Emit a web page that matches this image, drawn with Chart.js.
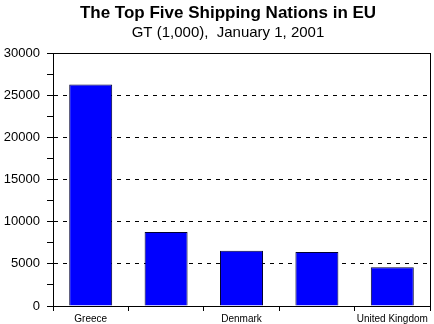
<!DOCTYPE html>
<html>
<head>
<meta charset="utf-8">
<script src="https://cdn.jsdelivr.net/npm/chart.js@4"></script>
<style>
  html, body { margin: 0; padding: 0; background: #fff; }
  #wrap { width: 434px; height: 324px; }
</style>
</head>
<body>
<div id="wrap"><canvas id="chart" width="434" height="324"></canvas></div>
<script>
// data
const nations = ['Greece', 'Italy', 'Denmark', 'Germany', 'United Kingdom'];
const tonnage = [26300, 8800, 6550, 6400, 4600];
const shownLabels = ['Greece', 'Denmark', 'United Kingdom'];
const yMax = 30000;

// frame round the plot area
const frame = {
    id: 'frame',
    afterLayout(chart) {
        // titles in the original sit a little right of the canvas centre
        chart.boxes.forEach(b => {
            if (b.position === 'top' && b.options && b.options.text !== undefined) {
                b.left = 26;
            }
        });
    },
    afterDraw(chart) {
        const a = chart.chartArea;
        const c = chart.ctx;
        c.save();
        c.strokeStyle = '#000';
        c.lineWidth = 1;
        c.strokeRect(Math.round(a.left) + 0.5, Math.round(a.top) + 0.5,
            Math.round(a.right - a.left), Math.round(a.bottom - a.top));
        c.restore();
    }
};

new Chart(document.getElementById('chart'), {
    type: 'bar',
    data: {
        labels: nations,
        datasets: [{
            data: tonnage,
            backgroundColor: '#0000ff',
            borderColor: '#000033',
            borderWidth: 1,
            barPercentage: 0.57,
            categoryPercentage: 1
        }]
    },
    plugins: [frame],
    options: {
        responsive: false,
        animation: false,
        layout: { padding: { left: 0, right: 4, top: 0, bottom: 0 } },
        plugins: {
            legend: { display: false },
            tooltip: { enabled: false },
            title: {
                display: true,
                text: 'The Top Five Shipping Nations in EU',
                color: '#000',
                font: { family: 'Arial, Liberation Sans', size: 17, weight: 'bold' },
                padding: { top: 3, bottom: 0 }
            },
            subtitle: {
                display: true,
                text: 'GT (1,000),  January 1, 2001',
                color: '#000',
                font: { family: 'Arial, Liberation Sans', size: 15 },
                padding: { top: 0, bottom: 12 }
            }
        },
        scales: {
            x: {
                offset: true,
                grid: {
                    offset: true,
                    drawOnChartArea: false,
                    tickLength: 5,
                    tickColor: '#000'
                },
                border: { color: '#000' },
                ticks: {
                    color: '#000',
                    autoSkip: false,
                    maxRotation: 0,
                    padding: 2,
                    font: { family: 'Arial, Liberation Sans', size: 10 },
                    callback: function (v, i) {
                        const name = this.getLabelForValue(v);
                        return shownLabels.includes(name) ? name : '';
                    }
                },
                afterFit: s => { s.height = 18; }
            },
            y: {
                min: 0,
                max: yMax,
                grid: {
                    color: ctx => {
                        const v = ctx.tick ? ctx.tick.value : 0;
                        return (v % 5000 === 0 && v > 0 && v < yMax) ? '#000' : 'rgba(0,0,0,0)';
                    },
                    tickBorderDash: [],
                    tickColor: '#000',
                    tickLength: 6
                },
                border: { color: '#000', dash: [4, 5] },
                ticks: {
                    stepSize: 2500,
                    color: '#000',
                    padding: 7,
                    font: { family: 'Arial, Liberation Sans', size: 13 },
                    callback: v => (v % 5000 === 0 ? String(v) : '')
                },
                afterFit: s => { s.width = 53; }
            }
        }
    }
});
</script>
</body>
</html>
